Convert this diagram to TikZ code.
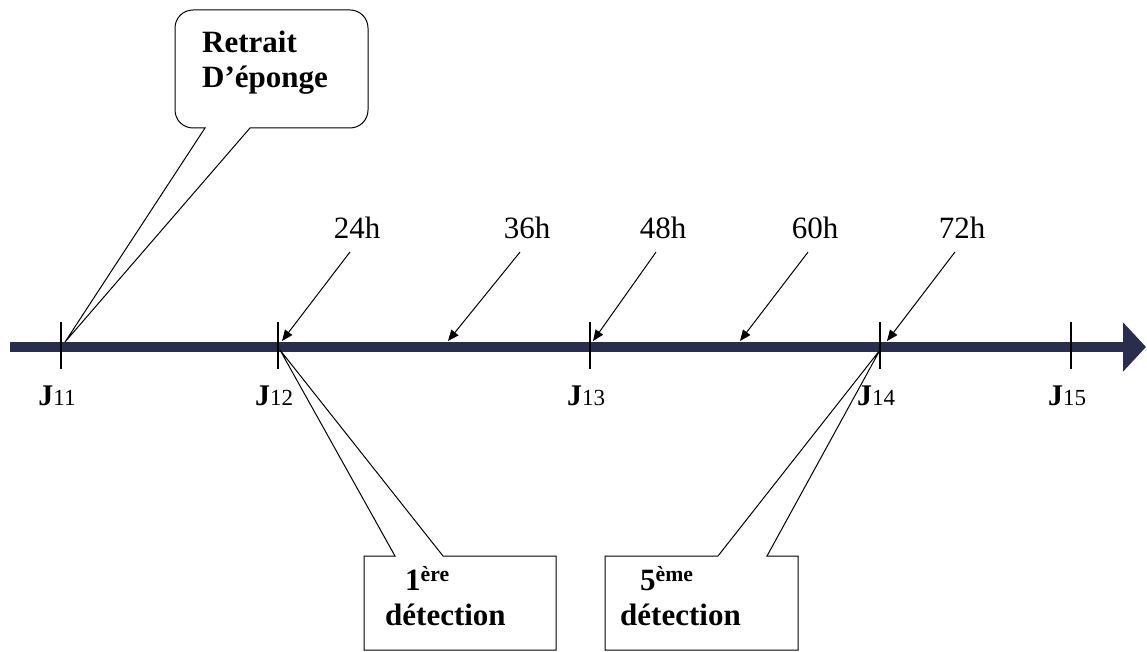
\documentclass[tikz,border=0pt]{standalone}
\usepackage{fontspec}
\setmainfont{Liberation Serif}
\usetikzlibrary{arrows.meta}
\definecolor{axe}{RGB}{42,46,78}
\begin{document}
\begin{tikzpicture}[x=1pt,y=1pt,
    heure/.style={inner sep=0pt,font=\fontsize{31}{35}\selectfont},
    texte/.style={inner sep=0pt,anchor=north west,align=left,font=\fontsize{31}{35}\selectfont\bfseries},
    jour/.style={inner sep=0pt,anchor=base,font=\fontsize{30}{32}\selectfont\bfseries},
    fleche/.style={line width=1pt,-{Triangle[length=11pt,width=9pt]}}]
  \useasboundingbox (0,0) rectangle (1147,-652);
  \draw[axe,line width=10pt,-{Triangle[length=23pt,width=48pt]}](10,-347)--(1146,-347);
  \foreach \x/\n in {61/11,278/12,590/13,880/14,1071/15}{
    \draw[line width=1.2pt](\x,-322)--(\x,-369);
    \node[jour](j\n) at (\x-4,-405){J{\mdseries\fontsize{23}{23}\selectfont\n}};
  }
  \foreach \h/\lx/\tx in {24/357/282,36/527/448,48/663/593,60/815/740,72/962/887}{
    \node[heure](h\h) at (\lx,-228){\h h};
    \coordinate (t\h) at (\tx,-341);
    \draw[fleche]([shift={(-7,-13)}]h\h.south)--(t\h);
  }
  \coordinate (p11) at (65,-342);
  \coordinate (p12) at (280,-350);
  \coordinate (p14) at (880,-350);
  \draw[line width=1pt](205,-128)--(193,-128) arc[start angle=-90,end angle=-180,radius=18pt]
       --(175,-28) arc[start angle=180,end angle=90,radius=18pt]
       --(350,-10) arc[start angle=90,end angle=0,radius=18pt]
       --(368,-110) arc[start angle=0,end angle=-90,radius=18pt]
       --(250,-128)--(p11)--cycle;
  \node[texte](ret) at (202,-31){Retrait\\D’éponge};
  \draw[line width=1pt](395,-556)--(364,-556)--(364,-650)--(556,-650)--(556,-556)--(443,-556)--(p12)--cycle;
  \node[texte](det1) at (385,-566){\hspace*{20pt}1\textsuperscript{ère}\\détection};
  \draw[line width=1pt](718,-556)--(605,-556)--(605,-650)--(798,-650)--(798,-556)--(767,-556)--(p14)--cycle;
  \node[texte](det5) at (620,-566){\hspace*{20pt}5\textsuperscript{ème}\\détection};
\end{tikzpicture}
\end{document}
